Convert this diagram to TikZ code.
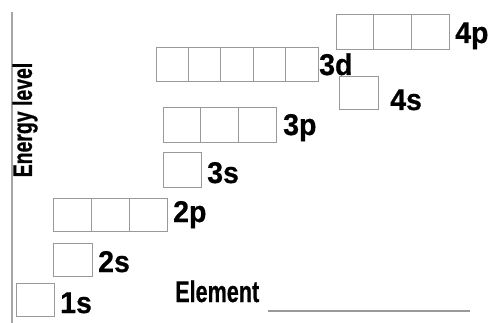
\documentclass[tikz,border=0pt]{standalone}
\usepackage{fontspec}
\setmainfont{Liberation Sans}
\newfontfamily\lblfont[FakeStretch=0.95,FakeBold=0.6]{Liberation Sans Bold}
\newfontfamily\narrowfont[FakeStretch=0.72,FakeBold=0.6]{Liberation Sans Bold}
\begin{document}
\begin{tikzpicture}[x=1pt,y=-1pt,
  cell/.style={draw=gray!80, line width=1pt},
  orblabel/.style={anchor=base west, inner sep=0pt, font=\lblfont\fontsize{30}{30}\selectfont},
  narrowlabel/.style={inner sep=0pt, font=\narrowfont\fontsize{30}{30}\selectfont}]
\useasboundingbox (0,0) rectangle (489,323);
% axis
\draw[gray!70, line width=1.5pt] (12,12) coordinate (axtop) -- (12,323) coordinate (axbot);
\node[narrowlabel, rotate=90, font=\narrowfont\fontsize{27}{27}\selectfont] (elev) at (25,120) {Energy level};
% orbital boxes: \orbbox{x}{y}{n}{w}{h}
\newcommand{\orbbox}[5]{%
  \foreach \i in {1,...,#3}{%
    \draw[cell] ({#1+(\i-1)*#4},#2) rectangle ({#1+\i*#4},{#2+#5});
  }}
\orbbox{16}{283}{1}{38}{33}
\orbbox{53}{243}{1}{39}{33}
\orbbox{53}{198}{3}{38}{33}
\orbbox{163}{153}{1}{38}{34}
\orbbox{163}{108}{3}{37.7}{35}
\orbbox{156}{48}{5}{32.4}{34}
\orbbox{339}{77}{1}{39}{33}
\orbbox{336}{15}{3}{37.7}{35}
% labels
\node[orblabel] (l1s) at (60,313) {1s};
\node[orblabel] (l2s) at (98,272) {2s};
\node[orblabel] (l2p) at (173,222) {2p};
\node[orblabel] (l3s) at (207,183) {3s};
\node[orblabel] (l3p) at (283,135) {3p};
\node[orblabel] (l3d) at (319,75) {3d};
\node[orblabel] (l4s) at (390,110) {4s};
\node[orblabel] (l4p) at (455,43) {4p};
% element
\node[narrowlabel, anchor=base west] (elem) at (175,302) {Element};
\draw[gray!80, line width=1.2pt] (268,311) coordinate (la) -- (470,311) coordinate (lb);
\end{tikzpicture}
\end{document}
